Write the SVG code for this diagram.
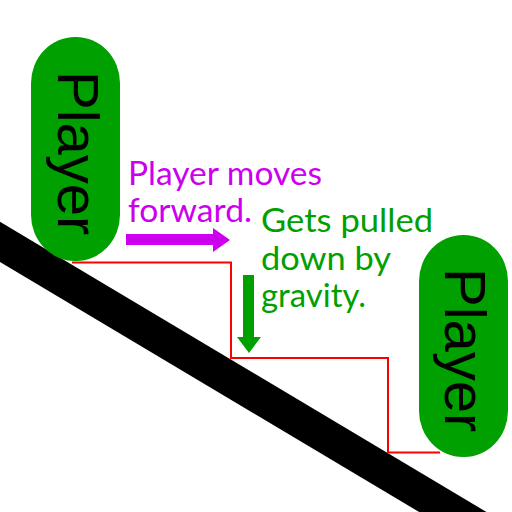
<svg xmlns="http://www.w3.org/2000/svg" width="512" height="512" viewBox="0 0 512 512">
<style>
.pill{fill:#00a000}
.ptxt{font-family:"Liberation Sans",Arial,sans-serif;font-size:58px;fill:#000}
.lbl{font-family:Lato,"Open Sans",sans-serif;font-size:32px}
.purple{fill:#cc00ee}
.green{fill:#00a000}
</style>
<rect width="512" height="512" fill="#fff"/>
<g id="ground">
<line x1="-20" y1="230" x2="540" y2="564" stroke="#000" stroke-width="34.5"/>
</g>
<g id="connectors">
<path d="M72,262.5 H231 V358 H388 V452.5 H440" fill="none" stroke="#ff0000" stroke-width="2"/>
<polygon class="purple" points="126,234 213,234 213,228 230,240 213,252 213,245 126,245"/>
<polygon class="green" points="243,275 254,275 254,337 261,337 249,353 237,337 243,337"/>
</g>
<g id="player1">
<rect class="pill" x="31" y="37" width="89" height="224" rx="44" ry="46"/>
<text class="ptxt" transform="translate(58,71) rotate(90)">Player</text>
</g>
<g id="player2">
<rect class="pill" x="419" y="235" width="89" height="222" rx="44" ry="46"/>
<text class="ptxt" transform="translate(445,268) rotate(90)">Player</text>
</g>
<g id="label-forward">
<text class="lbl purple" x="128" y="185" textLength="194" lengthAdjust="spacingAndGlyphs">Player moves</text>
<text class="lbl purple" x="128" y="222" textLength="124" lengthAdjust="spacingAndGlyphs">forward.</text>
</g>
<g id="label-gravity">
<text class="lbl green" x="261" y="232" textLength="172" lengthAdjust="spacingAndGlyphs">Gets pulled</text>
<text class="lbl green" x="261" y="270" textLength="130" lengthAdjust="spacingAndGlyphs">down by</text>
<text class="lbl green" x="261" y="307" textLength="105" lengthAdjust="spacingAndGlyphs">gravity.</text>
</g>
</svg>
